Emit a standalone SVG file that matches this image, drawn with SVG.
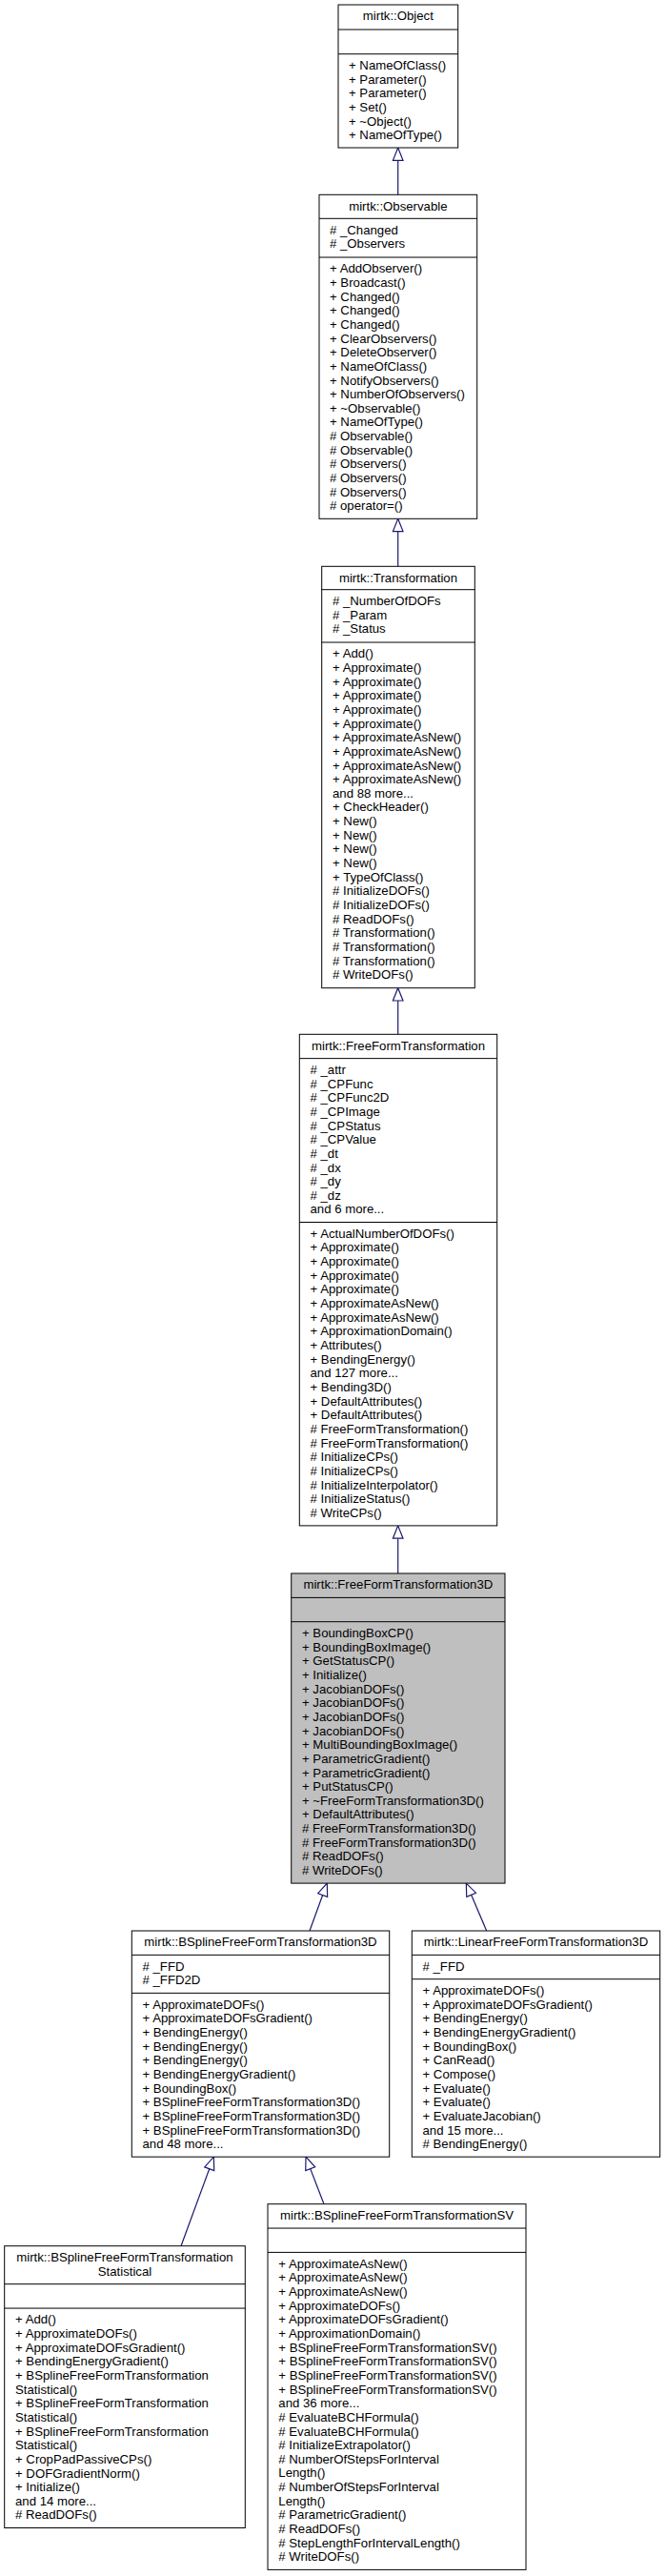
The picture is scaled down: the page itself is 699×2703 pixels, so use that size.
<svg xmlns="http://www.w3.org/2000/svg" width="699" height="2703" viewBox="0 0 699 2703">
<style>
.box{fill:#ffffff;stroke:#000000;stroke-width:1}
.hl{fill:#bfbfbf;stroke:#000000;stroke-width:1}
.sep{stroke:#000000;stroke-width:1}
text{font-family:"Liberation Sans",Arial,sans-serif;font-size:13.2px;fill:#000000}
.c{text-anchor:middle}
.edge{stroke:#191970;stroke-width:1.2;fill:none}
.head{fill:#ffffff;stroke:#191970;stroke-width:1.2}
</style>
<rect width="699" height="2703" fill="#ffffff"/>
<g id="edges">
<line class="edge" x1="417.7" y1="168.3" x2="417.7" y2="204.3"/>
<polygon class="head" points="417.7,155 423,168.3 412.4,168.3"/>
<line class="edge" x1="417.7" y1="557.6" x2="417.7" y2="594.3"/>
<polygon class="head" points="417.7,544.3 423,557.6 412.4,557.6"/>
<line class="edge" x1="417.7" y1="1050" x2="417.7" y2="1085.3"/>
<polygon class="head" points="417.7,1036.7 423,1050 412.4,1050"/>
<line class="edge" x1="417.7" y1="1614.2" x2="417.7" y2="1651"/>
<polygon class="head" points="417.7,1600.9 423,1614.2 412.4,1614.2"/>
<line class="edge" x1="338.66" y1="1988.57" x2="325" y2="2026"/>
<polygon class="head" points="343.3,1976.1 343.63,1990.42 333.69,1986.72"/>
<line class="edge" x1="494.61" y1="1988.3" x2="510.7" y2="2026"/>
<polygon class="head" points="489.3,1976.1 499.47,1986.19 489.75,1990.41"/>
<line class="edge" x1="219.75" y1="2275.7" x2="190" y2="2356.7"/>
<polygon class="head" points="224.3,2263.2 224.73,2277.51 214.77,2273.89"/>
<line class="edge" x1="325.71" y1="2275.64" x2="340" y2="2312.7"/>
<polygon class="head" points="321,2263.2 330.67,2273.76 320.75,2277.52"/>
</g>
<g id="Object">
<rect class="box" x="355" y="5" width="125.7" height="150"/>
<line class="sep" x1="355" y1="31" x2="480.7" y2="31"/>
<line class="sep" x1="355" y1="56.7" x2="480.7" y2="56.7"/>
<text class="c" x="417.85" y="21.3">mirtk::Object</text>
<text x="366" y="73"><tspan x="366">+ NameOfClass()</tspan><tspan x="366" dy="14.65">+ Parameter()</tspan><tspan x="366" dy="14.65">+ Parameter()</tspan><tspan x="366" dy="14.65">+ Set()</tspan><tspan x="366" dy="14.65">+ ~Object()</tspan><tspan x="366" dy="14.65">+ NameOfType()</tspan></text>
</g>
<g id="Observable">
<rect class="box" x="335" y="204.3" width="165.7" height="340"/>
<line class="sep" x1="335" y1="229.3" x2="500.7" y2="229.3"/>
<line class="sep" x1="335" y1="270" x2="500.7" y2="270"/>
<text class="c" x="417.85" y="220.6">mirtk::Observable</text>
<text x="346" y="245.6"><tspan x="346"># _Changed</tspan><tspan x="346" dy="14.65"># _Observers</tspan></text>
<text x="346" y="286.3"><tspan x="346">+ AddObserver()</tspan><tspan x="346" dy="14.65">+ Broadcast()</tspan><tspan x="346" dy="14.65">+ Changed()</tspan><tspan x="346" dy="14.65">+ Changed()</tspan><tspan x="346" dy="14.65">+ Changed()</tspan><tspan x="346" dy="14.65">+ ClearObservers()</tspan><tspan x="346" dy="14.65">+ DeleteObserver()</tspan><tspan x="346" dy="14.65">+ NameOfClass()</tspan><tspan x="346" dy="14.65">+ NotifyObservers()</tspan><tspan x="346" dy="14.65">+ NumberOfObservers()</tspan><tspan x="346" dy="14.65">+ ~Observable()</tspan><tspan x="346" dy="14.65">+ NameOfType()</tspan><tspan x="346" dy="14.65"># Observable()</tspan><tspan x="346" dy="14.65"># Observable()</tspan><tspan x="346" dy="14.65"># Observers()</tspan><tspan x="346" dy="14.65"># Observers()</tspan><tspan x="346" dy="14.65"># Observers()</tspan><tspan x="346" dy="14.65"># operator=()</tspan></text>
</g>
<g id="Transformation">
<rect class="box" x="337.7" y="594.3" width="160.6" height="442.4"/>
<line class="sep" x1="337.7" y1="618.7" x2="498.3" y2="618.7"/>
<line class="sep" x1="337.7" y1="674" x2="498.3" y2="674"/>
<text class="c" x="418" y="610.6">mirtk::Transformation</text>
<text x="349" y="635"><tspan x="349"># _NumberOfDOFs</tspan><tspan x="349" dy="14.65"># _Param</tspan><tspan x="349" dy="14.65"># _Status</tspan></text>
<text x="349" y="690.3"><tspan x="349">+ Add()</tspan><tspan x="349" dy="14.65">+ Approximate()</tspan><tspan x="349" dy="14.65">+ Approximate()</tspan><tspan x="349" dy="14.65">+ Approximate()</tspan><tspan x="349" dy="14.65">+ Approximate()</tspan><tspan x="349" dy="14.65">+ Approximate()</tspan><tspan x="349" dy="14.65">+ ApproximateAsNew()</tspan><tspan x="349" dy="14.65">+ ApproximateAsNew()</tspan><tspan x="349" dy="14.65">+ ApproximateAsNew()</tspan><tspan x="349" dy="14.65">+ ApproximateAsNew()</tspan><tspan x="349" dy="14.65">and 88 more...</tspan><tspan x="349" dy="14.65">+ CheckHeader()</tspan><tspan x="349" dy="14.65">+ New()</tspan><tspan x="349" dy="14.65">+ New()</tspan><tspan x="349" dy="14.65">+ New()</tspan><tspan x="349" dy="14.65">+ New()</tspan><tspan x="349" dy="14.65">+ TypeOfClass()</tspan><tspan x="349" dy="14.65"># InitializeDOFs()</tspan><tspan x="349" dy="14.65"># InitializeDOFs()</tspan><tspan x="349" dy="14.65"># ReadDOFs()</tspan><tspan x="349" dy="14.65"># Transformation()</tspan><tspan x="349" dy="14.65"># Transformation()</tspan><tspan x="349" dy="14.65"># Transformation()</tspan><tspan x="349" dy="14.65"># WriteDOFs()</tspan></text>
</g>
<g id="FreeFormTransformation">
<rect class="box" x="314.3" y="1085.3" width="207.4" height="515.6"/>
<line class="sep" x1="314.3" y1="1110.65" x2="521.7" y2="1110.65"/>
<line class="sep" x1="314.3" y1="1282.5" x2="521.7" y2="1282.5"/>
<text class="c" x="418" y="1101.6">mirtk::FreeFormTransformation</text>
<text x="325.5" y="1126.95"><tspan x="325.5"># _attr</tspan><tspan x="325.5" dy="14.65"># _CPFunc</tspan><tspan x="325.5" dy="14.65"># _CPFunc2D</tspan><tspan x="325.5" dy="14.65"># _CPImage</tspan><tspan x="325.5" dy="14.65"># _CPStatus</tspan><tspan x="325.5" dy="14.65"># _CPValue</tspan><tspan x="325.5" dy="14.65"># _dt</tspan><tspan x="325.5" dy="14.65"># _dx</tspan><tspan x="325.5" dy="14.65"># _dy</tspan><tspan x="325.5" dy="14.65"># _dz</tspan><tspan x="325.5" dy="14.65">and 6 more...</tspan></text>
<text x="325.5" y="1298.8"><tspan x="325.5">+ ActualNumberOfDOFs()</tspan><tspan x="325.5" dy="14.65">+ Approximate()</tspan><tspan x="325.5" dy="14.65">+ Approximate()</tspan><tspan x="325.5" dy="14.65">+ Approximate()</tspan><tspan x="325.5" dy="14.65">+ Approximate()</tspan><tspan x="325.5" dy="14.65">+ ApproximateAsNew()</tspan><tspan x="325.5" dy="14.65">+ ApproximateAsNew()</tspan><tspan x="325.5" dy="14.65">+ ApproximationDomain()</tspan><tspan x="325.5" dy="14.65">+ Attributes()</tspan><tspan x="325.5" dy="14.65">+ BendingEnergy()</tspan><tspan x="325.5" dy="14.65">and 127 more...</tspan><tspan x="325.5" dy="14.65">+ Bending3D()</tspan><tspan x="325.5" dy="14.65">+ DefaultAttributes()</tspan><tspan x="325.5" dy="14.65">+ DefaultAttributes()</tspan><tspan x="325.5" dy="14.65"># FreeFormTransformation()</tspan><tspan x="325.5" dy="14.65"># FreeFormTransformation()</tspan><tspan x="325.5" dy="14.65"># InitializeCPs()</tspan><tspan x="325.5" dy="14.65"># InitializeCPs()</tspan><tspan x="325.5" dy="14.65"># InitializeInterpolator()</tspan><tspan x="325.5" dy="14.65"># InitializeStatus()</tspan><tspan x="325.5" dy="14.65"># WriteCPs()</tspan></text>
</g>
<g id="FreeFormTransformation3D">
<rect class="hl" x="305.7" y="1651" width="224.3" height="325.1"/>
<line class="sep" x1="305.7" y1="1676.4" x2="530" y2="1676.4"/>
<line class="sep" x1="305.7" y1="1701.7" x2="530" y2="1701.7"/>
<text class="c" x="417.85" y="1667.3">mirtk::FreeFormTransformation3D</text>
<text x="317" y="1718"><tspan x="317">+ BoundingBoxCP()</tspan><tspan x="317" dy="14.65">+ BoundingBoxImage()</tspan><tspan x="317" dy="14.65">+ GetStatusCP()</tspan><tspan x="317" dy="14.65">+ Initialize()</tspan><tspan x="317" dy="14.65">+ JacobianDOFs()</tspan><tspan x="317" dy="14.65">+ JacobianDOFs()</tspan><tspan x="317" dy="14.65">+ JacobianDOFs()</tspan><tspan x="317" dy="14.65">+ JacobianDOFs()</tspan><tspan x="317" dy="14.65">+ MultiBoundingBoxImage()</tspan><tspan x="317" dy="14.65">+ ParametricGradient()</tspan><tspan x="317" dy="14.65">+ ParametricGradient()</tspan><tspan x="317" dy="14.65">+ PutStatusCP()</tspan><tspan x="317" dy="14.65">+ ~FreeFormTransformation3D()</tspan><tspan x="317" dy="14.65">+ DefaultAttributes()</tspan><tspan x="317" dy="14.65"># FreeFormTransformation3D()</tspan><tspan x="317" dy="14.65"># FreeFormTransformation3D()</tspan><tspan x="317" dy="14.65"># ReadDOFs()</tspan><tspan x="317" dy="14.65"># WriteDOFs()</tspan></text>
</g>
<g id="BSplineFreeFormTransformation3D">
<rect class="box" x="138.3" y="2026" width="270.4" height="237.2"/>
<line class="sep" x1="138.3" y1="2051.35" x2="408.7" y2="2051.35"/>
<line class="sep" x1="138.3" y1="2091.35" x2="408.7" y2="2091.35"/>
<text class="c" x="273.5" y="2042.3">mirtk::BSplineFreeFormTransformation3D</text>
<text x="149.5" y="2067.65"><tspan x="149.5"># _FFD</tspan><tspan x="149.5" dy="14.65"># _FFD2D</tspan></text>
<text x="149.5" y="2107.65"><tspan x="149.5">+ ApproximateDOFs()</tspan><tspan x="149.5" dy="14.65">+ ApproximateDOFsGradient()</tspan><tspan x="149.5" dy="14.65">+ BendingEnergy()</tspan><tspan x="149.5" dy="14.65">+ BendingEnergy()</tspan><tspan x="149.5" dy="14.65">+ BendingEnergy()</tspan><tspan x="149.5" dy="14.65">+ BendingEnergyGradient()</tspan><tspan x="149.5" dy="14.65">+ BoundingBox()</tspan><tspan x="149.5" dy="14.65">+ BSplineFreeFormTransformation3D()</tspan><tspan x="149.5" dy="14.65">+ BSplineFreeFormTransformation3D()</tspan><tspan x="149.5" dy="14.65">+ BSplineFreeFormTransformation3D()</tspan><tspan x="149.5" dy="14.65">and 48 more...</tspan></text>
</g>
<g id="LinearFreeFormTransformation3D">
<rect class="box" x="432.3" y="2026" width="260.4" height="237.2"/>
<line class="sep" x1="432.3" y1="2051.35" x2="692.7" y2="2051.35"/>
<line class="sep" x1="432.3" y1="2076.7" x2="692.7" y2="2076.7"/>
<text class="c" x="562.5" y="2042.3">mirtk::LinearFreeFormTransformation3D</text>
<text x="443.5" y="2067.65"># _FFD</text>
<text x="443.5" y="2093"><tspan x="443.5">+ ApproximateDOFs()</tspan><tspan x="443.5" dy="14.65">+ ApproximateDOFsGradient()</tspan><tspan x="443.5" dy="14.65">+ BendingEnergy()</tspan><tspan x="443.5" dy="14.65">+ BendingEnergyGradient()</tspan><tspan x="443.5" dy="14.65">+ BoundingBox()</tspan><tspan x="443.5" dy="14.65">+ CanRead()</tspan><tspan x="443.5" dy="14.65">+ Compose()</tspan><tspan x="443.5" dy="14.65">+ Evaluate()</tspan><tspan x="443.5" dy="14.65">+ Evaluate()</tspan><tspan x="443.5" dy="14.65">+ EvaluateJacobian()</tspan><tspan x="443.5" dy="14.65">and 15 more...</tspan><tspan x="443.5" dy="14.65"># BendingEnergy()</tspan></text>
</g>
<g id="BSplineFreeFormTransformationStatistical">
<rect class="box" x="4.7" y="2356.7" width="252.6" height="295.8"/>
<line class="sep" x1="4.7" y1="2396.7" x2="257.3" y2="2396.7"/>
<line class="sep" x1="4.7" y1="2422.05" x2="257.3" y2="2422.05"/>
<text class="c" x="131" y="2373"><tspan x="131">mirtk::BSplineFreeFormTransformation</tspan><tspan x="131" dy="14.65">Statistical</tspan></text>
<text x="16" y="2438.35"><tspan x="16">+ Add()</tspan><tspan x="16" dy="14.65">+ ApproximateDOFs()</tspan><tspan x="16" dy="14.65">+ ApproximateDOFsGradient()</tspan><tspan x="16" dy="14.65">+ BendingEnergyGradient()</tspan><tspan x="16" dy="14.65">+ BSplineFreeFormTransformation</tspan><tspan x="16" dy="14.65">Statistical()</tspan><tspan x="16" dy="14.65">+ BSplineFreeFormTransformation</tspan><tspan x="16" dy="14.65">Statistical()</tspan><tspan x="16" dy="14.65">+ BSplineFreeFormTransformation</tspan><tspan x="16" dy="14.65">Statistical()</tspan><tspan x="16" dy="14.65">+ CropPadPassiveCPs()</tspan><tspan x="16" dy="14.65">+ DOFGradientNorm()</tspan><tspan x="16" dy="14.65">+ Initialize()</tspan><tspan x="16" dy="14.65">and 14 more...</tspan><tspan x="16" dy="14.65"># ReadDOFs()</tspan></text>
</g>
<g id="BSplineFreeFormTransformationSV">
<rect class="box" x="281" y="2312.7" width="271" height="383.7"/>
<line class="sep" x1="281" y1="2338.05" x2="552" y2="2338.05"/>
<line class="sep" x1="281" y1="2363.4" x2="552" y2="2363.4"/>
<text class="c" x="416.5" y="2329">mirtk::BSplineFreeFormTransformationSV</text>
<text x="292.3" y="2379.7"><tspan x="292.3">+ ApproximateAsNew()</tspan><tspan x="292.3" dy="14.65">+ ApproximateAsNew()</tspan><tspan x="292.3" dy="14.65">+ ApproximateAsNew()</tspan><tspan x="292.3" dy="14.65">+ ApproximateDOFs()</tspan><tspan x="292.3" dy="14.65">+ ApproximateDOFsGradient()</tspan><tspan x="292.3" dy="14.65">+ ApproximationDomain()</tspan><tspan x="292.3" dy="14.65">+ BSplineFreeFormTransformationSV()</tspan><tspan x="292.3" dy="14.65">+ BSplineFreeFormTransformationSV()</tspan><tspan x="292.3" dy="14.65">+ BSplineFreeFormTransformationSV()</tspan><tspan x="292.3" dy="14.65">+ BSplineFreeFormTransformationSV()</tspan><tspan x="292.3" dy="14.65">and 36 more...</tspan><tspan x="292.3" dy="14.65"># EvaluateBCHFormula()</tspan><tspan x="292.3" dy="14.65"># EvaluateBCHFormula()</tspan><tspan x="292.3" dy="14.65"># InitializeExtrapolator()</tspan><tspan x="292.3" dy="14.65"># NumberOfStepsForInterval</tspan><tspan x="292.3" dy="14.65">Length()</tspan><tspan x="292.3" dy="14.65"># NumberOfStepsForInterval</tspan><tspan x="292.3" dy="14.65">Length()</tspan><tspan x="292.3" dy="14.65"># ParametricGradient()</tspan><tspan x="292.3" dy="14.65"># ReadDOFs()</tspan><tspan x="292.3" dy="14.65"># StepLengthForIntervalLength()</tspan><tspan x="292.3" dy="14.65"># WriteDOFs()</tspan></text>
</g>
</svg>
